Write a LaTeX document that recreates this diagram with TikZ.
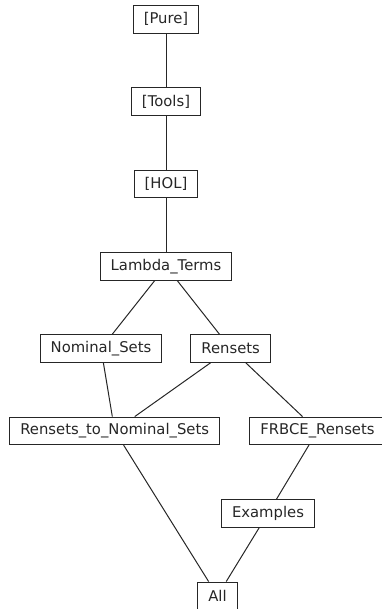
\documentclass[tikz,border=0pt]{standalone}
\usepackage{fontspec}
\setmainfont{DejaVu Sans}
\begin{document}
\begin{tikzpicture}[x=1pt,y=-1pt,
  thy/.style={draw=black!85, line width=1pt, inner xsep=10.5pt, inner ysep=0pt,
    minimum height=27.5pt, font=\fontsize{14.8pt}{17pt}\selectfont, text=black!85},
  dep/.style={draw=black!85, line width=1pt}]
\useasboundingbox (0,0) rectangle (381,609);
\node[thy] (pure) at (166,19.3) {[Pure]};
\node[thy] (tools) at (166,101.7) {[Tools]};
\node[thy] (hol) at (166,184) {[HOL]};
\node[thy] (lam) at (166,266.3) {Lambda\_Terms};
\node[thy] (nom) at (101,348.5) {Nominal\_Sets};
\node[thy] (ren) at (230.7,348.5) {Rensets};
\node[thy] (rtn) at (114.7,430.8) {Rensets\_to\_Nominal\_Sets};
\node[thy] (frb) at (317.5,430.8) {FRBCE\_Rensets};
\node[thy] (ex) at (268,513.3) {Examples};
\node[thy] (all) at (217.5,595.8) {All};
\draw[dep] (pure) -- (tools);
\draw[dep] (tools) -- (hol);
\draw[dep] (hol) -- (lam);
\draw[dep] (lam) -- (nom);
\draw[dep] (lam) -- (ren);
\draw[dep] (nom) -- (rtn);
\draw[dep] (ren) -- (rtn);
\draw[dep] (ren) -- (frb);
\draw[dep] (rtn) -- (all);
\draw[dep] (frb) -- (ex);
\draw[dep] (ex) -- (all);
\end{tikzpicture}
\end{document}
